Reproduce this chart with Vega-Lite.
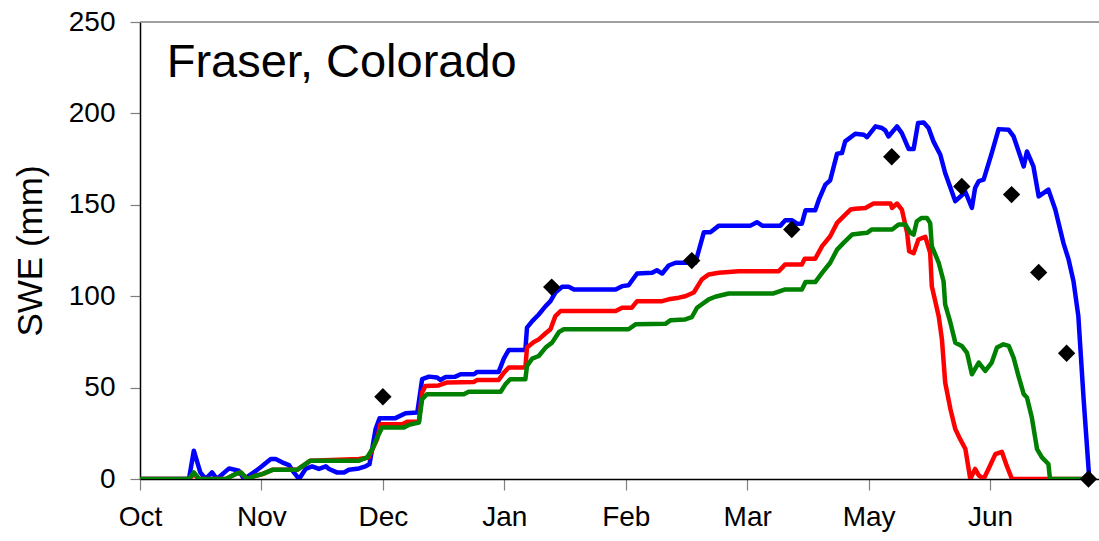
{
  "$schema": "https://vega.github.io/schema/vega-lite/v6.json",
  "autosize": "none",
  "width": 959,
  "height": 457,
  "padding": {"left": 140, "top": 22, "right": 0, "bottom": 62},
  "background": "white",
  "config": {
    "view": {"stroke": null},
    "font": "Liberation Sans",
    "axis": {"grid": false, "labelFont": "Liberation Sans", "titleFont": "Liberation Sans", "labelColor": "black", "titleColor": "black", "titleFontWeight": "normal"}
  },
  "datasets": {
    "swe": [
      {"series":"blue","day":0,"swe":0},{"series":"blue","day":12.1,"swe":0},{"series":"blue","day":13.3,"swe":15.5},{"series":"blue","day":14.9,"swe":3.6},{"series":"blue","day":16.2,"swe":0},{"series":"blue","day":17.8,"swe":3.6},{"series":"blue","day":19.0,"swe":0},{"series":"blue","day":22.0,"swe":5.8},{"series":"blue","day":24.4,"swe":4.5},{"series":"blue","day":25.7,"swe":0},{"series":"blue","day":28.1,"swe":3.6},{"series":"blue","day":29.8,"swe":6.4},{"series":"blue","day":32.3,"swe":10.9},{"series":"blue","day":33.5,"swe":10.9},{"series":"blue","day":35.1,"swe":9.1},{"series":"blue","day":36.8,"swe":7.6},{"series":"blue","day":38.0,"swe":3.6},{"series":"blue","day":39.3,"swe":0},{"series":"blue","day":40.9,"swe":5.5},{"series":"blue","day":42.5,"swe":6.9},{"series":"blue","day":44.2,"swe":5.5},{"series":"blue","day":45.9,"swe":6.9},{"series":"blue","day":46.7,"swe":5.5},{"series":"blue","day":48.6,"swe":3.6},{"series":"blue","day":50.4,"swe":3.6},{"series":"blue","day":51.6,"swe":5.1},{"series":"blue","day":54.1,"swe":5.8},{"series":"blue","day":55.7,"swe":6.9},{"series":"blue","day":56.7,"swe":8.2},{"series":"blue","day":58.2,"swe":27.3},{"series":"blue","day":59.2,"swe":33.3},{"series":"blue","day":63.1,"swe":33.3},{"series":"blue","day":65.6,"swe":36},{"series":"blue","day":68.5,"swe":36.4},{"series":"blue","day":69.7,"swe":54.6},{"series":"blue","day":71.4,"swe":56},{"series":"blue","day":73.4,"swe":55.5},{"series":"blue","day":74.2,"swe":54.2},{"series":"blue","day":75.5,"swe":55.8},{"series":"blue","day":77.9,"swe":56},{"series":"blue","day":79.2,"swe":57.3},{"series":"blue","day":82.5,"swe":57.3},{"series":"blue","day":83.3,"swe":58.6},{"series":"blue","day":88.6,"swe":58.6},{"series":"blue","day":89.9,"swe":66},{"series":"blue","day":91.1,"swe":70.6},{"series":"blue","day":95.2,"swe":70.6},{"series":"blue","day":95.6,"swe":82.8},{"series":"blue","day":96.9,"swe":86.4},{"series":"blue","day":98.5,"swe":90},{"series":"blue","day":100.2,"swe":94.6},{"series":"blue","day":101.4,"swe":97.3},{"series":"blue","day":102.6,"swe":102},{"series":"blue","day":104.3,"swe":105.2},{"series":"blue","day":105.9,"swe":105.2},{"series":"blue","day":107.2,"swe":103.7},{"series":"blue","day":117.5,"swe":103.7},{"series":"blue","day":119.1,"swe":105.5},{"series":"blue","day":120.7,"swe":106},{"series":"blue","day":122.8,"swe":112.4},{"series":"blue","day":126.5,"swe":112.8},{"series":"blue","day":127.7,"swe":114.2},{"series":"blue","day":129.0,"swe":112.4},{"series":"blue","day":130.6,"swe":116.8},{"series":"blue","day":132.3,"swe":118.3},{"series":"blue","day":137.2,"swe":118.3},{"series":"blue","day":139.3,"swe":135},{"series":"blue","day":140.9,"swe":135},{"series":"blue","day":143.0,"swe":138.6},{"series":"blue","day":150.8,"swe":138.6},{"series":"blue","day":152.4,"swe":140.5},{"series":"blue","day":153.7,"swe":138.6},{"series":"blue","day":158.2,"swe":138.6},{"series":"blue","day":159.4,"swe":141.5},{"series":"blue","day":161.1,"swe":141.5},{"series":"blue","day":162.3,"swe":139.7},{"series":"blue","day":163.5,"swe":139.7},{"series":"blue","day":164.4,"swe":147},{"series":"blue","day":166.8,"swe":147},{"series":"blue","day":167.7,"swe":152.8},{"series":"blue","day":169.3,"swe":161},{"series":"blue","day":170.5,"swe":163.4},{"series":"blue","day":172.2,"swe":178},{"series":"blue","day":173.4,"swe":178.3},{"series":"blue","day":174.2,"swe":184.7},{"series":"blue","day":176.7,"swe":188.9},{"series":"blue","day":178.8,"swe":188.3},{"series":"blue","day":179.6,"swe":187},{"series":"blue","day":181.7,"swe":192.9},{"series":"blue","day":183.3,"swe":192},{"series":"blue","day":184.1,"swe":190.7},{"series":"blue","day":184.9,"swe":187.4},{"series":"blue","day":187.0,"swe":192.9},{"series":"blue","day":188.2,"swe":189.2},{"series":"blue","day":189.9,"swe":180.5},{"series":"blue","day":191.1,"swe":180.5},{"series":"blue","day":192.2,"swe":194.7},{"series":"blue","day":193.6,"swe":195},{"series":"blue","day":194.8,"swe":192},{"series":"blue","day":196.0,"swe":184.7},{"series":"blue","day":197.7,"swe":177.4},{"series":"blue","day":198.9,"swe":167.4},{"series":"blue","day":201.4,"swe":152},{"series":"blue","day":203.9,"swe":157},{"series":"blue","day":205.5,"swe":148.3},{"series":"blue","day":206.3,"swe":159.2},{"series":"blue","day":207.2,"swe":163},{"series":"blue","day":208.4,"swe":163.8},{"series":"blue","day":210.4,"swe":178.3},{"series":"blue","day":212.1,"swe":191.4},{"series":"blue","day":214.6,"swe":191},{"series":"blue","day":215.8,"swe":187.4},{"series":"blue","day":218.3,"swe":171},{"series":"blue","day":219.1,"swe":179.2},{"series":"blue","day":220.7,"swe":171},{"series":"blue","day":222.0,"swe":154.6},{"series":"blue","day":224.4,"swe":158.3},{"series":"blue","day":226.1,"swe":147.4},{"series":"blue","day":228.1,"swe":129.2},{"series":"blue","day":229.4,"swe":120},{"series":"blue","day":230.6,"swe":108.2},{"series":"blue","day":231.8,"swe":89},{"series":"blue","day":233.1,"swe":43.7},{"series":"blue","day":234.5,"swe":0},
      {"series":"red","day":0,"swe":0},{"series":"red","day":12.1,"swe":0},{"series":"red","day":13.3,"swe":2.7},{"series":"red","day":14.6,"swe":0},{"series":"red","day":21.2,"swe":0},{"series":"red","day":23.6,"swe":2.7},{"series":"red","day":24.9,"swe":3.6},{"series":"red","day":26.5,"swe":0},{"series":"red","day":28.6,"swe":1.8},{"series":"red","day":30.2,"swe":2.7},{"series":"red","day":32.7,"swe":5},{"series":"red","day":38.8,"swe":5},{"series":"red","day":42.1,"swe":10},{"series":"red","day":54.1,"swe":10.9},{"series":"red","day":56.5,"swe":11.8},{"series":"red","day":58.6,"swe":22},{"series":"red","day":59.4,"swe":30},{"series":"red","day":64.8,"swe":30},{"series":"red","day":66.0,"swe":31.3},{"series":"red","day":68.9,"swe":31.3},{"series":"red","day":69.7,"swe":47.3},{"series":"red","day":70.5,"swe":50.9},{"series":"red","day":73.8,"swe":51.2},{"series":"red","day":75.9,"swe":52.8},{"series":"red","day":82.5,"swe":53.1},{"series":"red","day":83.3,"swe":54.2},{"series":"red","day":88.6,"swe":54.2},{"series":"red","day":89.9,"swe":58.2},{"series":"red","day":91.1,"swe":61},{"series":"red","day":95.2,"swe":61},{"series":"red","day":95.6,"swe":71.9},{"series":"red","day":97.3,"swe":74.9},{"series":"red","day":98.5,"swe":76.4},{"series":"red","day":100.2,"swe":79.7},{"series":"red","day":101.4,"swe":81.9},{"series":"red","day":102.6,"swe":89.1},{"series":"red","day":103.9,"swe":91.9},{"series":"red","day":117.5,"swe":91.9},{"series":"red","day":119.1,"swe":93.7},{"series":"red","day":121.5,"swe":93.7},{"series":"red","day":122.8,"swe":97.3},{"series":"red","day":129.0,"swe":97.3},{"series":"red","day":130.6,"swe":98.3},{"series":"red","day":133.1,"swe":99.2},{"series":"red","day":134.7,"swe":100},{"series":"red","day":136.8,"swe":102},{"series":"red","day":138.8,"swe":109.2},{"series":"red","day":140.5,"swe":111.9},{"series":"red","day":143.0,"swe":112.8},{"series":"red","day":147.9,"swe":113.7},{"series":"red","day":157.8,"swe":113.7},{"series":"red","day":159.4,"swe":117.4},{"series":"red","day":163.5,"swe":117.4},{"series":"red","day":164.2,"swe":120.5},{"series":"red","day":166.8,"swe":120.5},{"series":"red","day":168.5,"swe":127.4},{"series":"red","day":170.5,"swe":132.8},{"series":"red","day":172.2,"swe":140.1},{"series":"red","day":173.8,"swe":143.7},{"series":"red","day":175.5,"swe":147.4},{"series":"red","day":176.7,"swe":147.8},{"series":"red","day":179.2,"swe":148.3},{"series":"red","day":181.2,"swe":150.7},{"series":"red","day":185.4,"swe":150.7},{"series":"red","day":185.8,"swe":148.3},{"series":"red","day":187.0,"swe":150.7},{"series":"red","day":188.2,"swe":147.4},{"series":"red","day":189.5,"swe":134.7},{"series":"red","day":190.0,"swe":124.6},{"series":"red","day":191.1,"swe":123.5},{"series":"red","day":192.3,"swe":131},{"series":"red","day":194.0,"swe":132.5},{"series":"red","day":195.2,"swe":123.7},{"series":"red","day":195.6,"swe":105.5},{"series":"red","day":197.3,"swe":89},{"series":"red","day":198.1,"swe":76.4},{"series":"red","day":198.9,"swe":52.8},{"series":"red","day":200.2,"swe":38.2},{"series":"red","day":201.4,"swe":27.3},{"series":"red","day":202.6,"swe":21.8},{"series":"red","day":203.9,"swe":16.4},{"series":"red","day":205.1,"swe":0},{"series":"red","day":206.3,"swe":5.5},{"series":"red","day":207.2,"swe":2},{"series":"red","day":208.4,"swe":0},{"series":"red","day":209.6,"swe":5.5},{"series":"red","day":211.3,"swe":13.6},{"series":"red","day":212.9,"swe":14.9},{"series":"red","day":214.1,"swe":7.3},{"series":"red","day":215.4,"swe":0},{"series":"red","day":234.3,"swe":0},
      {"series":"green","day":0,"swe":0},{"series":"green","day":12.1,"swe":0},{"series":"green","day":13.3,"swe":3.6},{"series":"green","day":14.6,"swe":0},{"series":"green","day":21.2,"swe":0},{"series":"green","day":23.6,"swe":2.7},{"series":"green","day":24.9,"swe":3.6},{"series":"green","day":26.5,"swe":0},{"series":"green","day":28.6,"swe":1.8},{"series":"green","day":30.2,"swe":2.7},{"series":"green","day":32.7,"swe":5},{"series":"green","day":38.8,"swe":5},{"series":"green","day":42.1,"swe":10},{"series":"green","day":54.1,"swe":10},{"series":"green","day":56.1,"swe":11.8},{"series":"green","day":57.4,"swe":16.4},{"series":"green","day":58.6,"swe":22.7},{"series":"green","day":59.8,"swe":28.2},{"series":"green","day":65.2,"swe":28.2},{"series":"green","day":66.4,"swe":29.6},{"series":"green","day":68.9,"swe":30.9},{"series":"green","day":69.7,"swe":43.7},{"series":"green","day":70.9,"swe":46.4},{"series":"green","day":80.0,"swe":46.4},{"series":"green","day":81.2,"swe":47.7},{"series":"green","day":89.1,"swe":47.7},{"series":"green","day":90.3,"swe":51.9},{"series":"green","day":91.5,"swe":54.6},{"series":"green","day":95.2,"swe":54.6},{"series":"green","day":95.6,"swe":61.8},{"series":"green","day":96.9,"swe":65.9},{"series":"green","day":98.5,"swe":67.3},{"series":"green","day":100.2,"swe":71.9},{"series":"green","day":101.8,"swe":74.6},{"series":"green","day":103.5,"swe":80.4},{"series":"green","day":104.7,"swe":81.9},{"series":"green","day":120.7,"swe":81.9},{"series":"green","day":122.4,"swe":84.6},{"series":"green","day":129.8,"swe":84.9},{"series":"green","day":131.0,"swe":86.8},{"series":"green","day":134.7,"swe":87.3},{"series":"green","day":136.3,"swe":88.5},{"series":"green","day":137.6,"swe":93.7},{"series":"green","day":140.5,"swe":98.3},{"series":"green","day":142.1,"swe":99.7},{"series":"green","day":145.4,"swe":101.5},{"series":"green","day":156.5,"swe":101.5},{"series":"green","day":159.4,"swe":103.7},{"series":"green","day":163.5,"swe":103.7},{"series":"green","day":164.4,"swe":107.7},{"series":"green","day":166.8,"swe":107.7},{"series":"green","day":168.5,"swe":112.8},{"series":"green","day":170.5,"swe":118.3},{"series":"green","day":172.2,"swe":125.5},{"series":"green","day":173.8,"swe":129.2},{"series":"green","day":175.9,"swe":133.7},{"series":"green","day":177.9,"swe":134.3},{"series":"green","day":179.6,"swe":134.7},{"series":"green","day":180.8,"swe":136.5},{"series":"green","day":185.8,"swe":136.5},{"series":"green","day":187.4,"swe":139.2},{"series":"green","day":189.1,"swe":139.2},{"series":"green","day":190.3,"swe":134.7},{"series":"green","day":191.1,"swe":133.7},{"series":"green","day":191.9,"swe":141},{"series":"green","day":193.1,"swe":142.8},{"series":"green","day":194.4,"swe":142.8},{"series":"green","day":195.2,"swe":140},{"series":"green","day":195.6,"swe":127.4},{"series":"green","day":197.3,"swe":118.3},{"series":"green","day":198.5,"swe":108.2},{"series":"green","day":198.9,"swe":95.5},{"series":"green","day":200.2,"swe":85.5},{"series":"green","day":201.4,"swe":74.6},{"series":"green","day":203.0,"swe":72.8},{"series":"green","day":204.3,"swe":69},{"series":"green","day":205.5,"swe":57.3},{"series":"green","day":207.2,"swe":63.7},{"series":"green","day":208.8,"swe":59.1},{"series":"green","day":210.4,"swe":63.7},{"series":"green","day":211.7,"swe":71.9},{"series":"green","day":213.3,"swe":73.7},{"series":"green","day":214.6,"swe":72.8},{"series":"green","day":215.8,"swe":66.4},{"series":"green","day":217.0,"swe":56.4},{"series":"green","day":218.3,"swe":46.4},{"series":"green","day":219.1,"swe":44.6},{"series":"green","day":220.3,"swe":33.7},{"series":"green","day":221.6,"swe":16.4},{"series":"green","day":222.8,"swe":11.8},{"series":"green","day":224.4,"swe":8.2},{"series":"green","day":224.8,"swe":0},{"series":"green","day":234.3,"swe":0}
    ],
    "obs": [
      {"day":60,"swe":45},{"day":101.7,"swe":105},{"day":136.3,"swe":119.5},{"day":161,"swe":136.5},{"day":185.7,"swe":176.3},{"day":203,"swe":160},{"day":215.3,"swe":155.6},{"day":222,"swe":113},{"day":228.9,"swe":68.8},{"day":234.3,"swe":0}
    ],
    "label": [{"text": "Fraser, Colorado", "day": 6.6, "swe": 220}]
  },
  "layer": [
    {
      "data": {"name": "swe"},
      "mark": {"type": "line", "strokeWidth": 4.5, "interpolate": "linear", "strokeJoin": "round", "clip": true},
      "encoding": {
        "x": {
          "field": "day", "type": "quantitative",
          "scale": {"domain": [0, 236.9], "nice": false, "zero": false},
          "axis": {
            "title": null, "values": [0, 30, 60, 90, 120, 150, 180, 210],
            "labelExpr": "['Oct','Nov','Dec','Jan','Feb','Mar','May','Jun'][round(datum.value/30)]",
            "labelFontSize": 28, "labelPadding": 13, "tickSize": 11, "tickColor": "#808080", "tickWidth": 1.2,
            "domainColor": "black", "domainWidth": 1.5, "labelFlush": false, "labelOverlap": false
          }
        },
        "y": {
          "field": "swe", "type": "quantitative",
          "scale": {"domain": [0, 250], "nice": false},
          "axis": {
            "title": "SWE (mm)", "values": [0, 50, 100, 150, 200, 250],
            "labelFontSize": 28, "labelPadding": 15, "tickSize": 10, "tickColor": "#808080", "tickWidth": 1.2,
            "domainColor": "black", "domainWidth": 1.5, "titleFontSize": 35, "titlePadding": 20
          }
        },
        "color": {
          "field": "series", "type": "nominal",
          "scale": {"domain": ["blue", "red", "green"], "range": ["#0000FF", "#FF0000", "#008000"]},
          "legend": null
        }
      }
    },
    {
      "data": {"name": "label"},
      "mark": {"type": "rule", "color": "#808080", "strokeWidth": 1.5},
      "encoding": {"y": {"datum": 250, "type": "quantitative"}}
    },
    {
      "data": {"name": "obs"},
      "mark": {"type": "point", "shape": "diamond", "filled": true, "color": "black", "size": 300, "opacity": 1},
      "encoding": {
        "x": {"field": "day", "type": "quantitative"},
        "y": {"field": "swe", "type": "quantitative"}
      }
    },
    {
      "data": {"name": "label"},
      "mark": {"type": "text", "align": "left", "baseline": "alphabetic", "fontSize": 47, "font": "Liberation Sans", "color": "black"},
      "encoding": {
        "x": {"field": "day", "type": "quantitative"},
        "y": {"field": "swe", "type": "quantitative"},
        "text": {"field": "text"}
      }
    }
  ]
}
